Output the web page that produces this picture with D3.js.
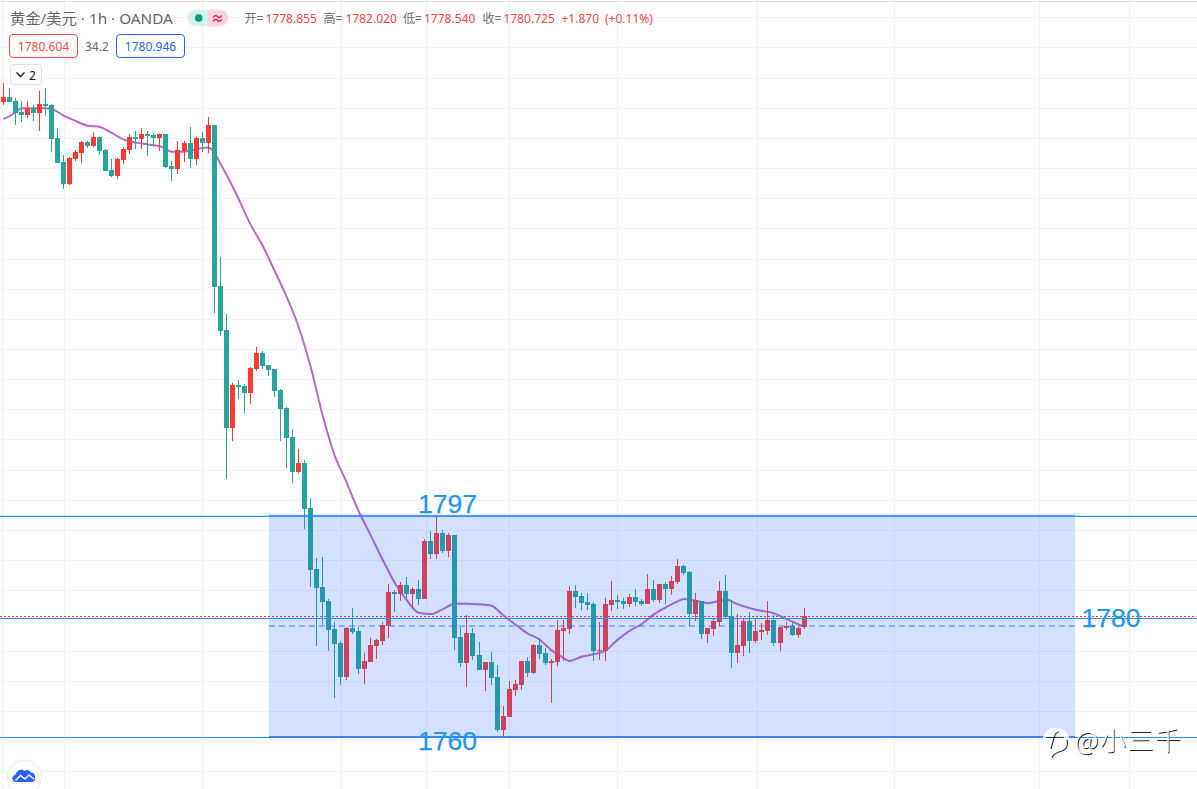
<!DOCTYPE html>
<html><head><meta charset="utf-8">
<style>html,body{margin:0;padding:0;background:#fff;overflow:hidden}svg{display:block}text{font-family:"Noto Sans","Noto Sans CJK SC",sans-serif}</style>
<script src="https://cdn.jsdelivr.net/npm/d3@7/dist/d3.min.js"></script>
</head><body><svg id="c" width="1197" height="789"></svg>
<script>
const opens=[1866.2,1867.0,1866.3,1864.5,1864.0,1865.1,1864.3,1865.8,1865.7,1860.2,1856.2,1852.5,1856.7,1857.7,1859.5,1858.8,1860.3,1858.2,1854.9,1853.9,1856.5,1858.2,1860.3,1860.0,1860.8,1860.7,1860.2,1860.8,1855.5,1855.0,1858.0,1859.3,1856.7,1860.2,1859.3,1862.3,1835.6,1828.3,1812.0,1819.1,1819.0,1817.8,1821.8,1824.5,1822.5,1821.8,1818.3,1815.3,1810.5,1804.7,1806.2,1798.7,1788.6,1785.6,1783.3,1778.6,1776.3,1770.6,1778.8,1778.3,1772.0,1773.1,1775.8,1776.6,1779.1,1784.8,1784.4,1785.9,1784.4,1785.3,1783.6,1793.2,1791.1,1794.6,1791.6,1794.2,1777.3,1773.0,1777.9,1774.3,1771.8,1773.1,1770.6,1761.8,1764.0,1768.5,1769.3,1773.3,1771.3,1775.9,1774.6,1773.0,1773.1,1778.3,1778.6,1784.9,1784.1,1783.1,1782.8,1775.0,1775.0,1782.6,1783.4,1783.3,1782.8,1783.9,1783.3,1782.8,1785.3,1783.4,1786.1,1785.3,1786.4,1789.1,1788.1,1781.1,1783.3,1777.8,1778.6,1779.8,1784.9,1780.8,1774.6,1775.8,1779.9,1776.6,1778.1,1778.3,1780.1,1776.3,1778.8,1779.1,1777.6,1778.855];
const highs=[1869.3,1868.5,1866.8,1866.3,1866.3,1865.7,1868.0,1868.5,1865.8,1861.8,1857.3,1857.0,1858.2,1859.7,1859.7,1861.2,1860.3,1858.3,1856.7,1856.8,1858.7,1860.8,1861.3,1861.8,1861.3,1861.0,1860.8,1860.8,1856.3,1859.7,1859.7,1862.0,1860.3,1861.2,1863.7,1862.3,1840.4,1830.9,1819.5,1820.0,1819.3,1822.1,1825.5,1824.8,1822.5,1821.8,1818.5,1815.5,1811.8,1808.5,1806.7,1800.4,1790.4,1790.6,1783.6,1779.8,1776.6,1778.9,1782.1,1778.9,1774.6,1777.1,1776.9,1779.8,1786.1,1785.1,1786.4,1787.2,1785.6,1786.8,1793.6,1794.9,1797.2,1795.1,1794.6,1794.2,1779.0,1781.0,1778.8,1776.5,1773.1,1774.8,1772.6,1765.8,1770.0,1770.1,1773.3,1774.0,1776.1,1777.1,1775.4,1773.6,1780.1,1780.1,1785.8,1785.9,1784.6,1784.6,1783.1,1779.8,1783.8,1786.6,1784.3,1783.8,1784.4,1785.3,1783.6,1787.7,1786.8,1786.1,1786.4,1787.4,1790.2,1789.2,1788.2,1784.6,1783.3,1778.8,1780.3,1786.6,1787.6,1783.4,1781.1,1780.3,1781.4,1780.3,1779.6,1783.3,1781.0,1778.9,1779.8,1779.6,1779.1,1782.02];
const lows=[1865.7,1866.2,1862.3,1862.8,1863.5,1863.0,1861.3,1863.8,1857.8,1856.0,1851.7,1852.4,1856.3,1856.0,1858.5,1858.7,1857.3,1854.7,1853.7,1853.4,1855.8,1857.5,1858.3,1858.3,1857.2,1858.7,1858.0,1855.2,1853.0,1854.2,1856.2,1855.2,1855.7,1857.8,1857.7,1831.1,1827.3,1803.5,1809.8,1816.8,1814.5,1816.0,1821.5,1821.8,1820.6,1817.1,1809.8,1805.4,1802.9,1804.5,1795.2,1785.6,1775.8,1779.3,1775.0,1767.1,1769.3,1770.1,1777.8,1771.1,1769.5,1773.1,1773.6,1775.9,1777.1,1781.4,1783.3,1783.8,1782.1,1782.6,1783.6,1790.2,1790.2,1791.2,1790.6,1775.1,1772.3,1769.0,1773.5,1771.8,1768.3,1769.3,1761.5,1760.8,1764.0,1767.5,1768.5,1770.6,1771.1,1773.6,1772.6,1766.3,1772.5,1773.3,1777.8,1782.1,1781.8,1781.8,1773.3,1773.5,1773.3,1781.6,1781.9,1781.9,1782.3,1782.4,1782.4,1782.8,1783.1,1782.9,1782.8,1784.3,1786.1,1787.6,1779.1,1779.9,1777.0,1776.3,1777.5,1779.1,1780.5,1772.1,1773.0,1774.1,1774.6,1776.3,1776.8,1777.6,1775.8,1775.0,1778.5,1777.5,1777.1,1778.54];
const closes=[1867.0,1866.2,1864.3,1864.0,1865.1,1864.3,1865.8,1865.5,1860.0,1856.0,1852.5,1856.8,1857.8,1859.5,1858.8,1860.3,1858.0,1854.7,1853.9,1856.7,1858.3,1860.3,1860.0,1860.8,1860.5,1860.2,1860.8,1855.4,1855.0,1858.2,1859.3,1856.7,1860.2,1859.3,1862.3,1835.4,1828.1,1812.0,1819.1,1818.8,1817.8,1822.0,1824.5,1822.3,1821.6,1818.1,1815.2,1810.3,1804.7,1806.2,1798.5,1788.4,1785.4,1783.1,1778.5,1776.1,1770.6,1778.8,1778.1,1772.0,1773.3,1775.9,1776.8,1779.3,1784.8,1784.4,1785.9,1784.4,1785.3,1783.6,1793.2,1791.1,1794.6,1791.6,1794.2,1777.1,1773.0,1777.9,1774.1,1771.8,1773.1,1770.5,1761.8,1764.2,1768.6,1769.5,1773.3,1771.3,1775.9,1774.5,1773.0,1773.3,1778.4,1778.8,1784.9,1783.9,1782.9,1782.6,1775.0,1775.1,1782.8,1783.4,1783.1,1782.8,1783.9,1783.1,1782.8,1785.3,1783.4,1786.1,1785.3,1786.6,1789.1,1787.9,1781.1,1783.4,1777.8,1778.8,1779.9,1784.9,1780.6,1774.6,1775.9,1779.9,1776.6,1778.3,1778.5,1780.1,1776.3,1778.9,1779.1,1777.6,1778.8,1780.725];
const maBars=[0,2,3,5,7,8,10,12,14,16,18,20,22,24,26,28,30,32,34,35,36,37,39,41,43,45,47,49,51,53,55,57,58,59,61,63,65,67,69,71,73,75,77,79,81,83,85,87,89,91,93,94,96,98,100,102,104,106,108,110,112,113,115,117,119,120,122,125,128,130,132,133];
const maValues=[1863.3,1864.4,1865.1,1865.1,1865.1,1865.0,1863.9,1863.0,1862.2,1862.0,1861.0,1859.9,1859.4,1859.1,1858.8,1857.9,1857.9,1858.3,1858.6,1857.8,1856.0,1854.2,1850.2,1845.9,1842.4,1838.2,1833.9,1828.9,1822.3,1814.2,1807.5,1803.0,1800.5,1798.2,1794.2,1790.1,1786.3,1783.4,1781.3,1781.1,1781.9,1782.8,1782.8,1782.7,1782.5,1780.9,1779.4,1777.9,1776.9,1775.1,1773.8,1773.3,1774.0,1774.4,1775.0,1776.8,1778.3,1779.4,1781.0,1782.2,1783.2,1783.6,1783.3,1782.9,1783.3,1783.5,1782.7,1781.8,1781.2,1780.3,1779.4,1779.0];
const timeGridBars=[-0.3,10,33,56,70.2,84,102,125.1,148,172.1,187];
const priceGridLevels=[1755,1760,1765,1770,1775,1780,1785,1790,1795,1800,1805,1810,1815,1820,1825,1830,1835,1840,1845,1850,1855,1860,1865,1870,1875,1880];
const levelHigh=1797.3, levelMid=1780.35, levelLow=1760.58, levelDash=1779.1, lastClose=1780.725;
const boxBars=[44.1,178];
const levelLabels=["1797","1780","1760"];
const titleText="黄金/美元 · 1h · OANDA";
const ohlcLabels=["开=","高=","低=","收="];
const ohlcTexts=["1778.855","1782.020","1778.540","1780.725"];

const W=1197,H=789;
const svg=d3.select("#c");
const x=d3.scaleLinear().domain([0,133]).range([3.4,804.1]);
const y=d3.scaleLinear().domain([1760,1880]).range([741,18.6]);
const gridY=d3.scaleLinear().domain([1760,1880]).range([741,17.3]);
const TEAL="#26a69a",RED="#f83b32",BLUE="#2196f3",TV="#2962ff";

// grid
const grid=svg.append("g").attr("stroke","#f0f3fa").attr("stroke-width",1).attr("shape-rendering","crispEdges");
grid.selectAll(".h").data(priceGridLevels).join("line").attr("x1",0).attr("x2",W).attr("y1",d=>Math.round(gridY(d))+.5).attr("y2",d=>Math.round(gridY(d))+.5);
grid.selectAll(".v").data(timeGridBars).join("line").attr("y1",0).attr("y2",H).attr("x1",d=>Math.round(x(d))+.5).attr("x2",d=>Math.round(x(d))+.5);
svg.append("line").attr("x1",0).attr("x2",W).attr("y1",1.5).attr("y2",1.5).attr("stroke","#e0e3eb").attr("shape-rendering","crispEdges");

// moving average
const ma=maBars.map((b,i)=>[b,maValues[i]]);
svg.append("path").attr("d",d3.line().x(d=>x(d[0])).y(d=>y(d[1])).curve(d3.curveMonotoneX)(ma)).attr("fill","none").attr("stroke","#ba68c8").attr("stroke-width",2);

// last price dotted line
svg.append("line").attr("x1",0).attr("x2",W).attr("y1",Math.round(y(lastClose))+.5).attr("y2",Math.round(y(lastClose))+.5)
  .attr("stroke",RED).attr("stroke-dasharray","1.5 2.5").attr("shape-rendering","crispEdges");

// candles
const idx=d3.range(opens.length);
const col=i=>closes[i]>=opens[i]?RED:TEAL;
const g=svg.append("g").attr("shape-rendering","crispEdges");
g.selectAll(".w").data(idx).join("rect").attr("x",i=>Math.round(x(i)-.5)).attr("width",1)
  .attr("y",i=>Math.round(y(highs[i]))).attr("height",i=>Math.max(1,Math.round(y(lows[i]))-Math.round(y(highs[i])))).attr("fill",col);
g.selectAll(".b").data(idx).join("rect").attr("x",i=>Math.round(x(i)-.5)-2).attr("width",5)
  .attr("y",i=>Math.round(y(Math.max(opens[i],closes[i])))).attr("height",i=>Math.max(1,Math.round(y(Math.min(opens[i],closes[i])))-Math.round(y(Math.max(opens[i],closes[i]))))).attr("fill",col);

// range box
const bx0=x(boxBars[0]),bx1=x(boxBars[1]);
svg.append("rect").attr("x",bx0).attr("width",bx1-bx0).attr("y",y(levelHigh)-1.5).attr("height",y(levelLow)-y(levelHigh)+1.5).attr("fill",TV).attr("fill-opacity",.2);
svg.append("line").attr("x1",bx0).attr("x2",bx1).attr("y1",y(levelDash)).attr("y2",y(levelDash)).attr("stroke",TV).attr("stroke-width",1.2).attr("stroke-dasharray","6 4").attr("stroke-opacity",.8);
svg.append("line").attr("x1",bx0).attr("x2",bx1).attr("y1",y(levelHigh)-1).attr("y2",y(levelHigh)-1).attr("stroke",TV).attr("stroke-opacity",.55).attr("stroke-width",1.5);
svg.append("line").attr("x1",bx0).attr("x2",bx1).attr("y1",y(levelLow)-.5).attr("y2",y(levelLow)-.5).attr("stroke",TV).attr("stroke-opacity",.8).attr("stroke-width",2);
[levelHigh,levelMid,levelLow].forEach(l=>svg.append("line").attr("x1",0).attr("x2",W).attr("y1",y(l)).attr("y2",y(l)).attr("stroke",BLUE).attr("stroke-width",1.2));

const big=(t,xp,yp)=>svg.append("text").text(t).attr("x",xp).attr("y",yp).attr("font-size",26.6).attr("fill",BLUE).attr("stroke",BLUE).attr("stroke-width",.25).style("font-family","'Liberation Sans',Arial,sans-serif");
big(levelLabels[0],418,512.5);
big(levelLabels[2],418,750);
big(levelLabels[1],1081.5,627);

// header
const txt=(t,xp,yp,fs,c,anchor)=>svg.append("text").text(t).attr("x",xp).attr("y",yp).attr("font-size",fs).attr("fill",c).attr("text-anchor",anchor||"start");
txt(titleText,10,24,15.3,"#63666f");
svg.append("path").attr("d","M196 9.5h12v17h-12a8.5 8.5 0 0 1 0-17z").attr("fill","#d6f0ec");
svg.append("path").attr("d","M208 9.5h11.500a8.500 8.500 0 0 1 0 17h-11.500z").attr("fill","#fbd3e2");
svg.append("circle").attr("cx",198.7).attr("cy",18).attr("r",3.8).attr("fill","#089981");
txt("≈",217.4,22.5,13,"#e91e63","middle").attr("font-weight",700);
const HR="#f7453f", GR="#6a6d78";
const lx=[244.5,323.5,403,482.5],vx=[265.5,345.5,424,503.5];
ohlcLabels.forEach((t,i)=>txt(t,lx[i],23,12,GR));
ohlcTexts.forEach((t,i)=>txt(t,vx[i],23,12,HR));
txt("+1.870",561.5,23,12,HR);
txt("(+0.11%)",605,23,12,HR);
const chip=(xp,w,c,t)=>{svg.append("rect").attr("x",xp+.5).attr("y",34.5).attr("width",w).attr("height",23).attr("rx",3.5).attr("fill","#fff").attr("stroke",c);txt(t,xp+w/2+.5,50.5,12,c,"middle");};
chip(9,68,"#f44a42","1780.604");
txt("34.2",85,50.5,12,GR);
chip(116,68,"#2962ff","1780.946");
svg.append("rect").attr("x",10.5).attr("y",64.5).attr("width",31).attr("height",20).attr("rx",3).attr("fill","#fff").attr("stroke","#dfe1e8");
svg.append("path").attr("d","M16.5 72.5l4 4 4-4").attr("fill","none").attr("stroke","#131722").attr("stroke-width",1.3);
txt("2",29,80,12,"#131722");

// logo bottom-left
svg.append("circle").attr("cx",24.5).attr("cy",777).attr("r",17).attr("fill","#fff").attr("stroke","#e8eaef");
svg.append("path").attr("d","M14.5 782a4 4 0 0 1 1-7.500c1-4 6-6.500 9-3.500 2-2 5-1 6.500 1.500 3 0 4.500 3 4 6 0 2-1 3.500-3 3.500z").attr("fill","#2962ff");
svg.append("path").attr("d","M15.5 780.500l5-5 4.500 3.500 4-4 5 4").attr("fill","none").attr("stroke","#fff").attr("stroke-width",1.4);

// watermark
svg.append("circle").attr("cx",1056).attr("cy",741).attr("r",13.5).attr("fill","#fff").attr("fill-opacity",.85);
svg.append("path").attr("d","M1059 732c-3 0-4 2-5 6l-3 11M1046 737.500h18M1067 740c2 8-3 11-8 12-3 1-6 3-7 6").attr("fill","none").attr("stroke","#333").attr("stroke-width",1.2);
const wm=(dx,dy,c)=>svg.append("text").text("@小三千").attr("x",1075+dx).attr("y",750+dy).attr("font-size",26).attr("letter-spacing",1.5).attr("font-weight",300).attr("fill",c).style("font-family","'Noto Sans CJK SC',sans-serif");
wm(.7,.7,"#222");wm(-.2,-.2,"#fff");
</script></body></html>
